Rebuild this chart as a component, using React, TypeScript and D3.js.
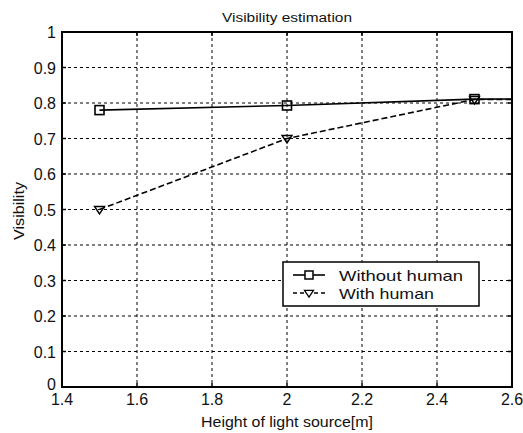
import React from "react";
import * as d3 from "d3";

const xValues = [1.5, 2, 2.5, 3];
const withoutHuman = [0.78, 0.793, 0.811, 0.812];
const withHuman = [0.5, 0.7, 0.81, 0.81];
const xTicks = [1.4, 1.6, 1.8, 2, 2.2, 2.4, 2.6];
const yTicks = [0, 0.1, 0.2, 0.3, 0.4, 0.5, 0.6, 0.7, 0.8, 0.9, 1];
const markerCount = 3;

const W = 523, H = 433;
const L = 62, R = 512, T = 32, B = 387;
const FONT = "'Liberation Sans', Arial, sans-serif";

export default function App() {
  const x = d3.scaleLinear().domain([1.4, 2.6]).range([L, R]);
  const y = d3.scaleLinear().domain([0, 1]).range([B, T]);
  const line = d3.line<number>().x((_, i) => x(xValues[i])).y((d) => y(d));
  const tri = (cx: number, cy: number, s = 5) =>
    `M${cx - s},${cy - s * 0.6}L${cx + s},${cy - s * 0.6}L${cx},${cy + s * 0.9}Z`;
  return (
    <svg width={W} height={H} style={{ position: "absolute", left: 0, top: 0, background: "#fff" }}>
      <defs>
        <clipPath id="plot"><rect x={L} y={T} width={R - L} height={B - T} /></clipPath>
      </defs>
      <rect x={0} y={0} width={W} height={H} fill="#fff" />
      {/* grid */}
      {xTicks.slice(1, -1).map((t) => (
        <line key={"gx" + t} x1={x(t)} x2={x(t)} y1={T} y2={B} stroke="#000" strokeWidth={1} strokeDasharray="3,3" />
      ))}
      {yTicks.slice(1, -1).map((t) => (
        <line key={"gy" + t} x1={L} x2={R} y1={y(t)} y2={y(t)} stroke="#000" strokeWidth={1} strokeDasharray="3,3" />
      ))}
      {/* ticks */}
      {yTicks.map((t) => (
        <g key={"ty" + t}>
          <line x1={L} x2={L + 4} y1={y(t)} y2={y(t)} stroke="#000" strokeWidth={1.5} />
          <line x1={R - 4} x2={R} y1={y(t)} y2={y(t)} stroke="#000" strokeWidth={1.5} />
        </g>
      ))}
      {xTicks.map((t) => (
        <g key={"tx" + t}>
          <line x1={x(t)} x2={x(t)} y1={B} y2={B - 4} stroke="#000" strokeWidth={1.5} />
          <line x1={x(t)} x2={x(t)} y1={T} y2={T + 4} stroke="#000" strokeWidth={1.5} />
        </g>
      ))}
      {/* data */}
      <g clipPath="url(#plot)">
        <path d={line(withoutHuman) || ""} fill="none" stroke="#000" strokeWidth={1.6} />
        <path d={line(withHuman) || ""} fill="none" stroke="#000" strokeWidth={1.6} strokeDasharray="6,3" />
        {withoutHuman.slice(0, markerCount).map((v, i) => (
          <rect key={"s" + i} x={x(xValues[i]) - 4.5} y={y(v) - 4.5} width={9} height={9} fill="none" stroke="#000" strokeWidth={1.6} />
        ))}
        {withHuman.slice(0, markerCount).map((v, i) => (
          <path key={"t" + i} d={tri(x(xValues[i]), y(v))} fill="none" stroke="#000" strokeWidth={1.4} />
        ))}
      </g>
      {/* frame */}
      <rect x={L} y={T} width={R - L} height={B - T} fill="none" stroke="#000" strokeWidth={2} />
      {/* tick labels */}
      {yTicks.map((t) => (
        <text key={"ly" + t} x={L - 6} y={t === 0 ? y(t) + 3 : y(t) + 6} fontSize={16} fontFamily={FONT} textAnchor="end" fill="#111">
          {String(t)}
        </text>
      ))}
      {xTicks.map((t) => (
        <text key={"lx" + t} x={x(t)} y={B + 18} fontSize={16} fontFamily={FONT} textAnchor="middle" fill="#111">
          {String(t)}
        </text>
      ))}
      {/* titles */}
      <text x={(L + R) / 2} y={22} fontSize={12.5} fontFamily={FONT} textAnchor="middle" fill="#111" textLength={130} lengthAdjust="spacingAndGlyphs">Visibility estimation</text>
      <text x={(L + R) / 2} y={427} fontSize={14.5} fontFamily={FONT} textAnchor="middle" fill="#111" textLength={172} lengthAdjust="spacingAndGlyphs">Height of light source[m]</text>
      <text transform={`translate(23.5,211) rotate(-90)`} fontSize={14} fontFamily={FONT} textAnchor="middle" fill="#111" textLength={58} lengthAdjust="spacingAndGlyphs">Visibility</text>
      {/* legend */}
      <g>
        <rect x={283} y={262} width={196} height={44} fill="#fff" stroke="#000" strokeWidth={1.5} />
        <line x1={293} x2={325} y1={275} y2={275} stroke="#000" strokeWidth={1.6} />
        <rect x={305} y={271} width={8} height={8} fill="#fff" stroke="#000" strokeWidth={1.5} />
        <line x1={293} x2={325} y1={293} y2={293} stroke="#000" strokeWidth={1.6} strokeDasharray="4,3" />
        <path d={tri(309, 293, 4.5)} fill="#fff" stroke="#000" strokeWidth={1.3} />
        <text x={339} y={280.5} fontSize={15} fontFamily={FONT} fill="#111" textLength={124} lengthAdjust="spacingAndGlyphs">Without human</text>
        <text x={339} y={298.5} fontSize={15} fontFamily={FONT} fill="#111" textLength={95} lengthAdjust="spacingAndGlyphs">With human</text>
      </g>
    </svg>
  );
}
